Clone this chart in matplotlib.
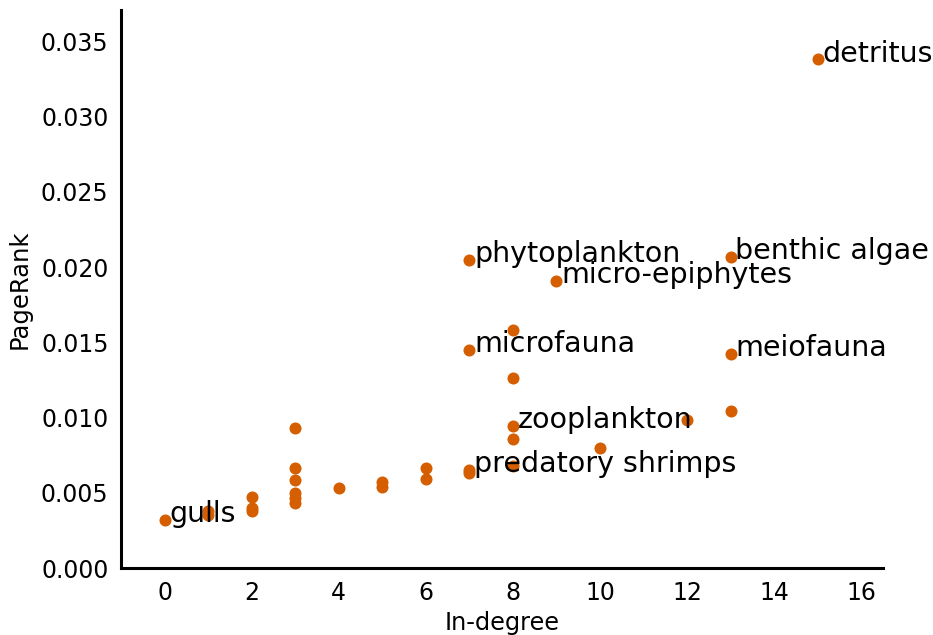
import matplotlib
matplotlib.use("Agg")
import matplotlib.pyplot as plt

# In-degree and PageRank of each species in the food web
in_degree = [15, 13, 7, 9, 8, 7, 13, 8, 13, 12, 8, 8, 10, 8, 7, 7,
             6, 6, 5, 5, 4, 3, 3, 3, 3, 3, 3, 2, 2, 2, 1, 1, 0]
pagerank = [0.0338, 0.0207, 0.0205, 0.0191, 0.0158, 0.0145, 0.0142, 0.0126,
            0.01045, 0.00985, 0.00945, 0.00858, 0.0080, 0.0068, 0.0065, 0.0063,
            0.00664, 0.0059, 0.00573, 0.0054, 0.00534, 0.0093, 0.00664, 0.00586,
            0.005, 0.00465, 0.0043, 0.00474, 0.00397, 0.00376, 0.0038, 0.0035,
            0.0032]

# Named species and their (in-degree, PageRank)
labels = ["detritus", "benthic algae", "phytoplankton", "micro-epiphytes",
          "microfauna", "meiofauna", "zooplankton", "predatory shrimps", "gulls"]
label_x = [15, 13, 7, 9, 7, 13, 8, 7, 0]
label_y = [0.0338, 0.0207, 0.0205, 0.0191, 0.0145, 0.0142, 0.00945, 0.0065, 0.0032]

fig = plt.figure(figsize=(9.33, 6.35), dpi=100)
ax = fig.add_axes([0.1297, 0.1055, 0.8167, 0.879])

ax.scatter(in_degree, pagerank, s=75, color="#d55e00", zorder=3, linewidths=0)
for name, x, y in zip(labels, label_x, label_y):
    ax.annotate(name, (x, y), xytext=(3.5, -1.5), textcoords="offset points",
                fontsize=20.5, va="baseline", ha="left", zorder=4)

ax.set_xlim(-1, 16.5)
ax.set_ylim(0, 0.0371)
ax.set_xticks(range(0, 17, 2))
ax.set_yticks([0.0, 0.005, 0.010, 0.015, 0.020, 0.025, 0.030, 0.035])
ax.set_yticklabels(["0.000", "0.005", "0.010", "0.015", "0.020", "0.025", "0.030", "0.035"])
ax.tick_params(length=0, labelsize=17, pad=9)
ax.set_xlabel("In-degree", fontsize=17.3, labelpad=5)
ax.set_ylabel("PageRank", fontsize=17.5, labelpad=7)

for side in ("top", "right"):
    ax.spines[side].set_visible(False)
for side in ("left", "bottom"):
    ax.spines[side].set_linewidth(2.2)
    ax.spines[side].set_color("black")

fig.savefig("out.png", dpi=100)
